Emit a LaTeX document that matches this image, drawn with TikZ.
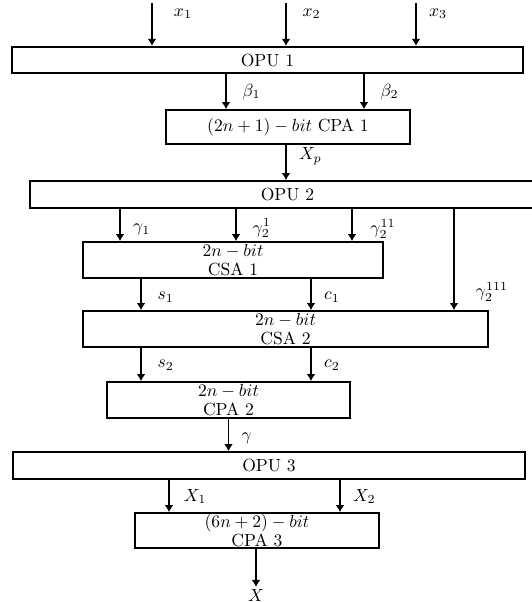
\documentclass[tikz,border=0pt]{standalone}
\usepackage{amsmath}
\usepackage{tikz}
\usetikzlibrary{arrows.meta,positioning,calc}

\begin{document}
\begin{tikzpicture}[
    x=0.02cm, y=-0.02cm,
    opu/.style={rectangle, draw=black, line width=1pt, minimum width=10.22cm, minimum height=0.53cm, inner sep=0pt},
    unit/.style={rectangle, draw=black, line width=1pt, align=center, inner sep=0pt, minimum height=0.72cm, font={\fontsize{10}{10.5}\selectfont}},
    arrow/.style={line width=1pt, -{Latex[length=4pt, width=5pt]}},
    lbl/.style={right=6pt, inner sep=1pt}
]
\useasboundingbox (0,0) rectangle (531,602);

% Operand units and adders
\node[opu] (opu1) at (267.5, 60) {OPU 1};
\node[unit, minimum width=4.88cm, minimum height=0.68cm] (cpa1) at (288, 127) {$(2n+1)-bit$ CPA 1};
\node[opu, minimum width=10.3cm, minimum height=0.54cm] (opu2) at (287.5, 194.5) {OPU 2};
\node[unit, minimum width=6cm] (csa1) at (233, 260) {$2n-bit$\\CSA 1};
\node[unit, minimum width=8.1cm] (csa2) at (285.5, 329) {$2n-bit$\\CSA 2};
\node[unit, minimum width=4.86cm] (cpa2) at (228.5, 400) {$2n-bit$\\CPA 2};
\node[opu, minimum width=10.24cm, minimum height=0.54cm] (opu3) at (269, 465.5) {OPU 3};
\node[unit, minimum width=4.88cm, minimum height=0.7cm] (cpa3) at (257, 530.5) {$(6n+2)-bit$\\CPA 3};
\node[inner sep=1pt] (xout) at (256, 595) {$X$};

% Signal columns
\coordinate (in1) at (152, 3);
\coordinate (in2) at (286, 3);
\coordinate (in3) at (416, 3);
\coordinate (b1) at (226, 0);
\coordinate (b2) at (364, 0);
\coordinate (g1) at (120, 0);
\coordinate (g2) at (236, 0);
\coordinate (g3) at (352, 0);
\coordinate (g4) at (454, 0);
\coordinate (sc) at (141, 0);
\coordinate (cc) at (311, 0);
\coordinate (X1c) at (169, 0);
\coordinate (X2c) at (340, 0);

% Inputs
\draw[arrow] (in1) -- (in1 |- opu1.north) node[lbl, right=11pt, pos=0.25] {$x_1$};
\draw[arrow] (in2) -- (in2 |- opu1.north) node[lbl, right=8pt, pos=0.25] {$x_2$};
\draw[arrow] (in3) -- (in3 |- opu1.north) node[lbl, right=6pt, pos=0.25] {$x_3$};

% OPU 1 -> CPA 1 -> OPU 2
\draw[arrow] (opu1.south -| b1) -- (cpa1.north -| b1) node[lbl, right=8pt, pos=0.5] {$\beta_1$};
\draw[arrow] (opu1.south -| b2) -- (cpa1.north -| b2) node[lbl, right=8pt, pos=0.5] {$\beta_2$};
\draw[arrow] (cpa1.south -| in2) -- (opu2.north -| in2) node[lbl, pos=0.32] {$X_p$};

% OPU 2 -> CSA 1 / CSA 2
\draw[arrow] (opu2.south -| g1) -- (csa1.north -| g1) node[lbl, pos=0.65] {$\gamma_1$};
\draw[arrow] (opu2.south -| g2) -- (csa1.north -| g2) node[lbl, right=8pt, pos=0.6] {$\gamma_2^{1}$};
\draw[arrow] (opu2.south -| g3) -- (csa1.north -| g3) node[lbl, right=9pt, pos=0.62] {$\gamma_2^{11}$};
\draw[arrow] (opu2.south -| g4) -- (csa2.north -| g4) node[lbl, right=11pt, pos=0.82] {$\gamma_2^{111}$};

% CSA 1 -> CSA 2 -> CPA 2
\draw[arrow] (csa1.south -| sc) -- (csa2.north -| sc) node[lbl, right=8pt, pos=0.58] {$s_1$};
\draw[arrow] (csa1.south -| cc) -- (csa2.north -| cc) node[lbl, pos=0.58] {$c_1$};
\draw[arrow] (csa2.south -| sc) -- (cpa2.north -| sc) node[lbl, right=8pt, pos=0.52] {$s_2$};
\draw[arrow] (csa2.south -| cc) -- (cpa2.north -| cc) node[lbl, pos=0.52] {$c_2$};

% CPA 2 -> OPU 3 -> CPA 3
\draw[arrow] (cpa2.south) -- (cpa2.south |- opu3.north) node[lbl, pos=0.62] {$\gamma$};
\draw[arrow] (opu3.south -| X1c) -- (cpa3.north -| X1c) node[lbl, right=7pt, pos=0.52] {$X_1$};
\draw[arrow] (opu3.south -| X2c) -- (cpa3.north -| X2c) node[lbl, pos=0.52] {$X_2$};
\draw[arrow] (cpa3.south -| xout) -- (xout.north);

\end{tikzpicture}
\end{document}
